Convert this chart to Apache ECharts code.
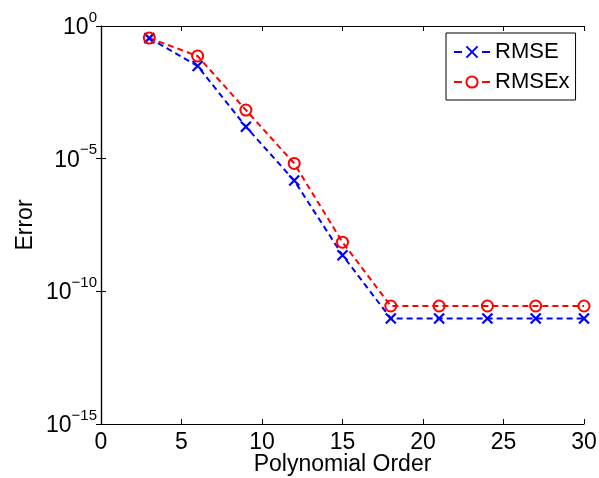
<!DOCTYPE html>
<html>
<head>
<meta charset="utf-8">
<script src="https://cdn.jsdelivr.net/npm/echarts@6/dist/echarts.min.js"></script>
<style>
  html, body { margin: 0; padding: 0; background: #fff; }
  #chart { width: 599px; height: 478px; }
</style>
</head>
<body>
<div id="chart"></div>
<script>
const orders = [3, 6, 9, 12, 15, 18, 21, 24, 27, 30];
const rmse   = [0.35, 0.031, 1.6e-4, 1.5e-6, 2.3e-9, 9.5e-12, 9.5e-12, 9.5e-12, 9.5e-12, 9.5e-12];
const rmsex  = [0.35, 0.074, 6.8e-4, 6.6e-6, 7.1e-9, 2.8e-11, 2.8e-11, 2.8e-11, 2.8e-11, 2.8e-11];
const xTicks = [0, 5, 10, 15, 20, 25, 30];
const yTickExponents = [0, -5, -10, -15];

const FONT = '"Liberation Sans", Arial, sans-serif';
const chart = echarts.init(document.getElementById('chart'), null, { renderer: 'canvas' });

const crossPath = 'path://M0,0L10,10M0,10L10,0';

const axisCommon = {
  axisLine: { show: true, lineStyle: { color: '#000', width: 1.2 } },
  axisTick: { show: true, inside: true, length: 5, lineStyle: { color: '#000', width: 1 } },
  splitLine: { show: false },
  minorTick: { show: false }
};

chart.setOption({
  animation: false,
  backgroundColor: '#fff',
  grid: { left: 101, right: 15, top: 26, bottom: 54, containLabel: false, outerBoundsMode: 'none' },
  legend: {
    orient: 'vertical',
    left: 446,
    top: 33,
    padding: [6, 6, 5, 7],
    itemGap: 4,
    itemWidth: 36,
    itemHeight: 14,
    backgroundColor: '#fff',
    borderColor: '#000',
    borderWidth: 1,
    lineStyle: { type: [8, 20] },
    textStyle: { fontFamily: FONT, fontSize: 22, color: '#000', lineHeight: 26, padding: [0, 0, 0, 0] },
    data: ['RMSE', 'RMSEx']
  },
  xAxis: [
    Object.assign({}, axisCommon, {
      type: 'value',
      min: 0, max: 30, interval: 5,
      position: 'bottom',
      name: 'Polynomial Order',
      nameLocation: 'middle',
      nameGap: 29,
      nameMoveOverlap: false,
      nameTextStyle: { fontFamily: FONT, fontSize: 23, color: '#000' },
      axisLabel: {
        fontFamily: FONT, fontSize: 23, color: '#000', margin: 7,
        formatter: v => xTicks.includes(v) ? String(v) : ''
      }
    }),
    Object.assign({}, axisCommon, {
      type: 'value',
      min: 0, max: 30, interval: 5,
      position: 'top',
      axisLabel: { show: false }
    })
  ],
  yAxis: [
    Object.assign({}, axisCommon, {
      type: 'log',
      logBase: 10,
      min: 1e-15, max: 1,
      interval: 5,
      position: 'left',
      name: 'Error',
      nameLocation: 'middle',
      nameGap: 64,
      nameMoveOverlap: false,
      nameTextStyle: { fontFamily: FONT, fontSize: 23, color: '#000' },
      axisLabel: {
        margin: 4,
        formatter: function (v) {
          const e = Math.round(Math.log10(v));
          if (!yTickExponents.includes(e)) return '';
          return '{b|10}{sup|' + String(e).replace('-', '\u2212') + '}';
        },
        rich: {
          b: { fontFamily: FONT, fontSize: 23, color: '#000', lineHeight: 32, verticalAlign: 'middle', padding: [3, 0, 0, 0] },
          sup: { fontFamily: FONT, fontSize: 15, color: '#000', lineHeight: 8, verticalAlign: 'top' }
        }
      }
    }),
    Object.assign({}, axisCommon, {
      type: 'log',
      logBase: 10,
      min: 1e-15, max: 1,
      interval: 5,
      position: 'right',
      axisLabel: { show: false }
    })
  ],
  series: [
    {
      name: 'RMSE',
      type: 'line',
      xAxisIndex: 0, yAxisIndex: 0,
      data: orders.map((x, i) => [x, rmse[i]]),
      symbol: crossPath,
      symbolSize: 10,
      showAllSymbol: true,
      lineStyle: { color: '#0000ff', width: 2, type: [6, 4] },
      itemStyle: { color: 'transparent', borderColor: '#0000ff', borderWidth: 2.2 },
      emphasis: { disabled: true }
    },
    {
      name: 'RMSEx',
      type: 'line',
      xAxisIndex: 0, yAxisIndex: 0,
      data: orders.map((x, i) => [x, rmsex[i]]),
      symbol: 'circle',
      symbolSize: 11,
      showAllSymbol: true,
      lineStyle: { color: '#ff0000', width: 2, type: [6, 4] },
      itemStyle: { color: 'transparent', borderColor: '#ff0000', borderWidth: 2 },
      emphasis: { disabled: true }
    }
  ]
});
</script>
</body>
</html>
